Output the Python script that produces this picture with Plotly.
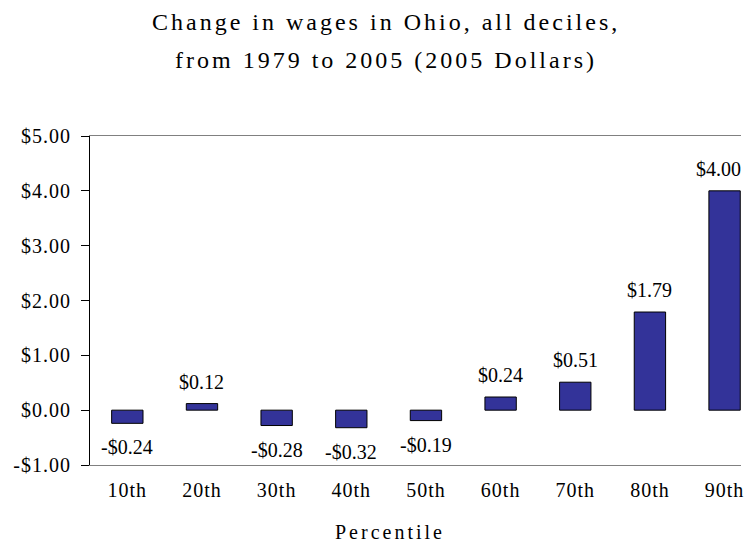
import plotly.graph_objects as go

# Ohio wage change by decile, 1979-2005 (2005 dollars)
percentiles = ["10th", "20th", "30th", "40th", "50th", "60th", "70th", "80th", "90th"]
wage_change = [-0.24, 0.12, -0.28, -0.32, -0.19, 0.24, 0.51, 1.79, 4.00]
y_ticks = [-1, 0, 1, 2, 3, 4, 5]

FONT = "Liberation Serif, Times New Roman, serif"
BAR = "#333399"

# the page body has an 8px margin, so the figure is sized to fit inside it
W, H = 736, 538
M_L, M_R, M_T, M_B = 82, 0, 128, 81
plot_w = W - M_L - M_R
plot_h = H - M_T - M_B


def money(v):
    return ("-" if v < 0 else "") + "${:.2f}".format(abs(v))


def spaced(s, px):
    return "<span style='letter-spacing:%spx'>%s</span>" % (px, s)


def py(y_px):
    # pixel row inside the figure -> paper y
    return (M_T + plot_h - y_px) / plot_h


def px(x_px):
    return (x_px - M_L) / plot_w


fig = go.Figure()
fig.add_trace(go.Bar(
    x=percentiles, y=wage_change, width=0.42,
    marker=dict(color=BAR, line=dict(color="#000000", width=1)),
    hoverinfo="skip", showlegend=False,
))

# data labels above / below each bar (last one nudged in from the edge)
for i, (p, v) in enumerate(zip(percentiles, wage_change)):
    fig.add_annotation(x=p, y=v, text=money(v), showarrow=False,
                       yshift=22 if v >= 0 else -24,
                       xshift=-6 if i == len(percentiles) - 1 else 0,
                       font=dict(family=FONT, size=20, color="#000000"))

# each category is 75px wide; plot area runs past the right edge
x_right = -0.5 + plot_w / 75.0

fig.update_layout(
    width=W, height=H,
    margin=dict(l=M_L, r=M_R, t=M_T, b=M_B),
    paper_bgcolor="white", plot_bgcolor="white",
    font=dict(family=FONT, size=20, color="#000000"),
    xaxis=dict(
        range=[-0.5, x_right], showgrid=False, zeroline=False,
        showline=True, mirror=True, linecolor="#808080", linewidth=1,
        ticks="", tickvals=percentiles,
        ticktext=[spaced(p, 1) for p in percentiles],
        ticklabelstandoff=7,
    ),
    xaxis2=dict(
        overlaying="x", anchor="free", position=1 / 6.0,
        range=[-0.5, x_right], showgrid=False, zeroline=False,
        showline=True, linecolor="#333333", linewidth=1,
        ticks="outside", ticklen=8, tickcolor="#333333",
        tickvals=[i + 0.5 for i in range(len(percentiles) - 1)],
        showticklabels=False,
    ),
    yaxis=dict(
        range=[-1, 5], showgrid=False, zeroline=False,
        showline=True, linecolor="#000000", linewidth=1,
        ticks="outside", ticklen=8, tickcolor="#000000",
        tickvals=y_ticks, ticktext=[spaced(money(t), 1) for t in y_ticks],
        ticklabelstandoff=6,
    ),
)

# two-line title and x-axis title
fig.add_annotation(xref="paper", yref="paper", x=px(379), y=py(14),
                   text=spaced("Change in wages in Ohio, all deciles,", 3),
                   showarrow=False, xanchor="center", yanchor="middle",
                   font=dict(family=FONT, size=24, color="#000000"))
fig.add_annotation(xref="paper", yref="paper", x=px(379), y=py(51.5),
                   text=spaced("from 1979 to 2005 (2005 Dollars)", 3),
                   showarrow=False, xanchor="center", yanchor="middle",
                   font=dict(family=FONT, size=24, color="#000000"))
fig.add_annotation(xref="paper", yref="paper", x=px(383), y=py(524),
                   text=spaced("Percentile", 3),
                   showarrow=False, xanchor="center", yanchor="middle",
                   font=dict(family=FONT, size=20, color="#000000"))

fig.write_html("out.html")
